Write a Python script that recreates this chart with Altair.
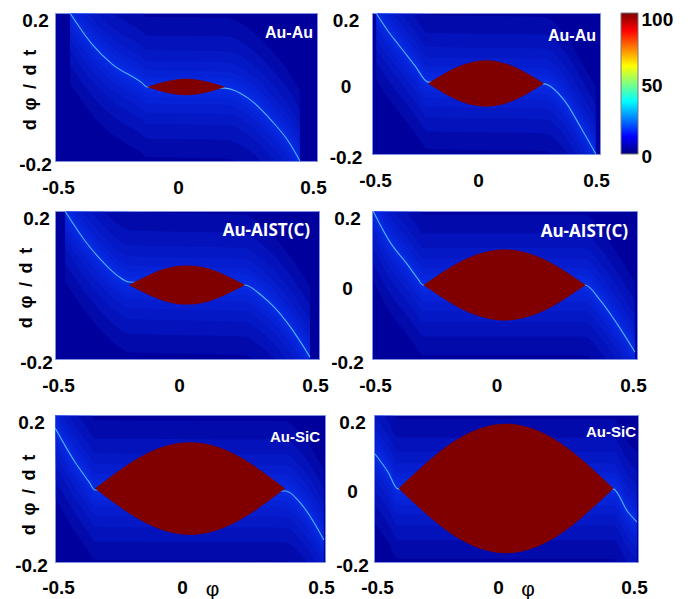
import altair as alt
import pandas as pd

# ---------------- data ----------------
x_ticks = [-0.5, 0, 0.5]
y_ticks_left = [-0.2, 0.2]
y_ticks_right = [-0.2, 0, 0.2]
cbar_ticks = [0, 50, 100]
cbar_range = [0, 100]

panel_labels = ["Au-Au", "Au-Au", "Au-AIST(C)", "Au-AIST(C)", "Au-SiC", "Au-SiC"]

# separatrix (bright ridge): phi, dphi/dt
curve1_x = [-0.443, -0.359, -0.282, -0.168, -0.149, 0.149, 0.237, 0.328, 0.390, 0.435]
curve1_y = [0.200, 0.116, 0.062, 0.011, 0.000, -0.003, -0.030, -0.092, -0.146, -0.200]
curve2_x = [-0.482, -0.430, -0.386, -0.311, -0.254, 0.254, 0.346, 0.417, 0.482]
curve2_y = [0.200, 0.149, 0.112, 0.050, 0.004, -0.001, -0.050, -0.126, -0.200]
curve3_x = [-0.462, -0.386, -0.326, -0.261, -0.220, 0.220, 0.280, 0.333, 0.394, 0.466]
curve3_y = [0.200, 0.119, 0.068, 0.024, 0.008, 0.000, -0.027, -0.062, -0.116, -0.195]
curve4_x = [-0.496, -0.432, -0.368, -0.326, -0.308, 0.304, 0.360, 0.425, 0.492]
curve4_y = [0.200, 0.116, 0.057, 0.016, 0.000, 0.000, -0.040, -0.105, -0.181]
curve5_x = [-0.500, -0.426, -0.374, -0.352, 0.352, 0.415, 0.496]
curve5_y = [0.165, 0.072, 0.018, -0.004, -0.007, -0.045, -0.140]
curve6_x = [-0.496, -0.447, -0.409, 0.405, 0.462, 0.496]
curve6_y = [0.094, 0.045, -0.001, -0.001, -0.064, -0.091]

# red (value 100) basin: half width / half height per panel, and its outline shape
lens_half_width = [0.149, 0.254, 0.220, 0.306, 0.352, 0.407]
lens_half_height = [0.022, 0.066, 0.053, 0.096, 0.126, 0.176]
lens_t = [-1.0, -0.8, -0.6, -0.4, -0.2, 0.0, 0.2, 0.4, 0.6, 0.8, 1.0]
lens_shape = [0.00, 0.31, 0.59, 0.81, 0.95, 1.00, 0.95, 0.81, 0.59, 0.31, 0.00]

# ---------------- styling ----------------
NARROW = "Liberation Sans Narrow, Arial Narrow, Liberation Sans, Arial, sans-serif"
SANS = "Liberation Sans, Arial, sans-serif"
CALIB = "Open Sans, Noto Sans, sans-serif"

XS = alt.Scale(domain=[-0.5, 0.5], nice=False, zero=False)
YS = alt.Scale(domain=[-0.2, 0.2], nice=False, zero=False)

JET = [("#00007f", 0.0), ("#0000ff", 0.125), ("#00ffff", 0.375),
       ("#ffff00", 0.625), ("#ff0000", 0.875), ("#7f0000", 1.0)]
GLOW = [0.19, 0.14, 0.10, 0.07, 0.045, 0.028, 0.014]


def x_axis(phi_x=None, pad=17):
    kw = dict(values=x_ticks, labelExpr="'' + datum.value", grid=False, ticks=False,
              domain=False, labelFont=NARROW, labelFontSize=19, labelFontWeight="bold",
              labelColor="black", labelPadding=pad, labelBaseline="top", labelAlign="center",
              labelFlush=False, labelOverlap=False,
              labelOffset={"condition": [{"test": "datum.value < -0.1", "value": 3},
                                         {"test": "datum.value > 0.1", "value": -4}],
                           "value": -8})
    if phi_x is None:
        kw["title"] = None
    else:
        kw.update(title="φ", titleFont=SANS, titleFontSize=21, titleFontWeight="normal",
                  titleColor="black", titleX=phi_x, titleY=33, titleBaseline="alphabetic",
                  titleAlign="center", titleAngle=0)
    return alt.Axis(**kw)


def y_axis(left, lab_pad, title_x=0, title_y=76):
    kw = dict(values=y_ticks_left if left else y_ticks_right, labelExpr="'' + datum.value",
              grid=False, ticks=False, domain=False, labelFont=NARROW, labelFontSize=19,
              labelFontWeight="bold", labelColor="black", labelPadding=lab_pad,
              labelAlign="center", labelBaseline="middle", labelFlush=False,
              labelOverlap=False,
              labelOffset={"condition": {"test": "datum.value > 0.1", "value": 7}, "value": 3})
    if left:
        kw.update(title="d \u2009φ \u2009/ \u2009d \u2009t", titleFont=SANS, titleFontSize=18,
                  titleFontWeight="bold", titleColor="black", titleAngle=270,
                  titleX=title_x, titleY=title_y, titleBaseline="alphabetic",
                  titleAlign="center")
    else:
        kw["title"] = None
    return alt.Axis(**kw)


def colorbar(w):
    cb_axis = alt.Axis(orient="right", values=cbar_ticks, title=None, grid=False, ticks=False,
                       domain=False, offset=38, labelFont=NARROW, labelFontSize=19,
                       labelFontWeight="bold", labelColor="black", labelPadding=3,
                       labelAlign="left", labelBaseline="middle", labelFlush=False,
                       labelOverlap=False,
                       labelOffset={"condition": {"test": "datum.value > 90", "value": 6},
                                    "value": 2})
    return (
        alt.Chart(pd.DataFrame({"cb_lo": [cbar_range[0]], "cb_hi": [cbar_range[1]]}))
        .mark_rect(stroke="#7a7a7a", strokeWidth=1, fill=alt.LinearGradient(
            gradient="linear", x1=0, x2=0, y1=1, y2=0,
            stops=[alt.GradientStop(color=c, offset=o) for c, o in JET]))
        .encode(x=alt.value(w + 21), x2=alt.value(w + 38),
                y=alt.Y("cb_lo:Q", scale=alt.Scale(domain=cbar_range, nice=False, zero=False),
                        axis=cb_axis),
                y2="cb_hi:Q")
    )


def panel(k, cx, cy, w, h, yax, xax, lab_font, lab_size, lab_dx, lab_y, ext, cb=False):
    cdf = pd.DataFrame({"x": cx, "y": cy})
    a = lens_half_width[k]
    hh = lens_half_height[k]
    ldf = pd.DataFrame({"x": [t * a for t in lens_t], "top": [s * hh for s in lens_shape]})
    X = alt.X("x:Q", scale=XS, axis=xax)
    base = alt.Chart(cdf)
    layers = []
    for d in GLOW:
        layers.append(
            base.mark_area(color="#0a3cff", opacity=0.17, interpolate="monotone", clip=True)
            .transform_calculate(lo=f"datum.y - {d}", hi=f"datum.y + {d}")
            .encode(x=X, y=alt.Y("lo:Q", scale=YS, axis=yax), y2="hi:Q")
        )
    layers.append(
        base.mark_line(color="#58c4ff", strokeWidth=1.1, opacity=0.9, interpolate="monotone",
                       clip=True)
        .encode(x=X, y=alt.Y("y:Q", scale=YS, axis=yax))
    )
    layers.append(
        alt.Chart(ldf).mark_area(color="#800000", interpolate="monotone", clip=True)
        .transform_calculate(bot="-datum.top")
        .encode(x=X, y=alt.Y("top:Q", scale=YS, axis=yax), y2="bot:Q")
    )
    layers.append(
        alt.Chart(pd.DataFrame({"t": [panel_labels[k]]}))
        .mark_text(align="right", baseline="alphabetic", font=lab_font, fontSize=lab_size,
                   fontWeight="bold", color="white")
        .encode(x=alt.value(w - lab_dx), y=alt.value(lab_y), text="t:N")
    )
    # invisible frame that fixes how much room the panel takes around its plot area
    el, er, et, eb = ext
    layers.append(
        alt.Chart(pd.DataFrame({"t": [0]})).mark_rect(opacity=0)
        .encode(x=alt.value(-el), x2=alt.value(w + er), y=alt.value(-et), y2=alt.value(h + eb))
    )
    inner = alt.layer(*layers)
    if cb:
        inner = alt.layer(inner, colorbar(w)).resolve_scale(y="independent")
    return inner.properties(
        width=w, height=h,
        view=alt.ViewBackground(fill="#00009c", stroke="#8090e0", strokeWidth=1))


p1 = panel(0, curve1_x, curve1_y, 262, 148, y_axis(True, 20, -20, 76.5), x_axis(),
           NARROW, 16, 4, 25, (46, 10, 4, 40))
p2 = panel(1, curve2_x, curve2_y, 228, 141, y_axis(False, 26.5), x_axis(),
           NARROW, 16, 4, 28, (42, 0, 4, 40), cb=True)
p3 = panel(2, curve3_x, curve3_y, 264, 148, y_axis(True, 19, -24, 76.5), x_axis(),
           CALIB, 17, 9, 25, (43, 10, 8, 40))
p4 = panel(3, curve4_x, curve4_y, 265, 148, y_axis(False, 25), x_axis(),
           CALIB, 17, 9, 26, (41, 0, 8, 40))
p5 = panel(4, curve5_x, curve5_y, 270, 147, y_axis(True, 24, -21, 79.5), x_axis(157, 16),
           NARROW, 15, 5, 27, (39, 6, 14, 0))
p6 = panel(5, curve6_x, curve6_y, 264, 147, y_axis(False, 22), x_axis(153.5, 16),
           NARROW, 15, 2, 22, (36, 0, 14, 0))

row1 = alt.hconcat(p1, p2, spacing=0)
row2 = alt.hconcat(p3, p4, spacing=0)
row3 = alt.hconcat(p5, p6, spacing=0)

chart = (
    alt.vconcat(row1, row2, row3, spacing=0)
    .properties(padding={"left": 0, "top": 0, "right": 0, "bottom": 0}, background="white")
    .configure_view(stroke="transparent")
)

chart.save("out.html", embed_options={"renderer": "svg", "actions": False})
